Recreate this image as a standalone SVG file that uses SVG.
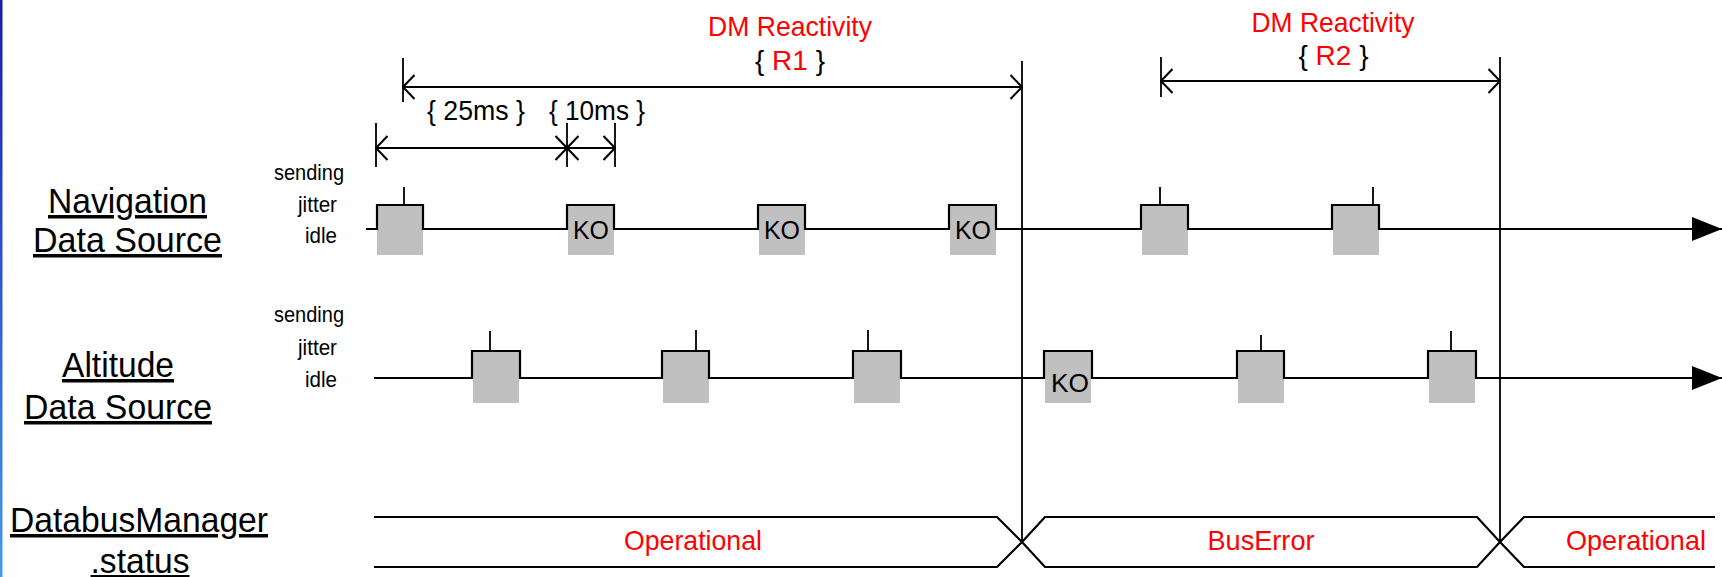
<svg xmlns="http://www.w3.org/2000/svg" width="1722" height="577" viewBox="0 0 1722 577">
<style>
text{font-family:"Liberation Sans",Arial,sans-serif}
.lbl{font-size:35px;text-anchor:middle;text-decoration:underline}
.st{font-size:22px;text-anchor:end}
.red{fill:#ff0000}
.t27{font-size:28px;text-anchor:middle}
.ko{font-size:26px;text-anchor:middle}
.sig{fill:none;stroke:#000;stroke-width:2.2}
.thin{fill:none;stroke:#000;stroke-width:1.8}
.dim{fill:none;stroke:#000;stroke-width:2;marker-start:url(#oa);marker-end:url(#oa)}
.pulse{fill:#c0c0c0}
</style>
<defs>
<linearGradient id="bg" x1="0" y1="0" x2="0" y2="1">
<stop offset="0" stop-color="#1a1aa8"/>
<stop offset="1" stop-color="#4a9ae4"/>
</linearGradient>
<marker id="oa" viewBox="0 0 13 26" refX="12" refY="13" markerUnits="userSpaceOnUse" markerWidth="13" markerHeight="26" orient="auto-start-reverse">
<path d="M0.5,1 L12,13 L0.5,25" fill="none" stroke="#000" stroke-width="2"/>
</marker>
<marker id="fa" viewBox="0 0 30 24" refX="30" refY="12" markerUnits="userSpaceOnUse" markerWidth="30" markerHeight="24" orient="auto">
<path d="M0,0 L30,12 L0,24 Z" fill="#000"/>
</marker>
</defs>
<rect width="1722" height="577" fill="#fff"/>
<rect x="0" y="0" width="2.5" height="577" fill="url(#bg)"/>

<g id="label-nav">
<text class="lbl" x="127.5" y="213" textLength="159" lengthAdjust="spacingAndGlyphs">Navigation</text>
<text class="lbl" x="127.5" y="252" textLength="189" lengthAdjust="spacingAndGlyphs">Data Source</text>
<text class="st" x="344" y="180" textLength="70" lengthAdjust="spacingAndGlyphs">sending</text>
<text class="st" x="337" y="212" textLength="39" lengthAdjust="spacingAndGlyphs">jitter</text>
<text class="st" x="337" y="243" textLength="32" lengthAdjust="spacingAndGlyphs">idle</text>
</g>
<g id="label-alt">
<text class="lbl" x="118" y="377" textLength="112" lengthAdjust="spacingAndGlyphs">Altitude</text>
<text class="lbl" x="118" y="419" textLength="188" lengthAdjust="spacingAndGlyphs">Data Source</text>
<text class="st" x="344" y="322" textLength="70" lengthAdjust="spacingAndGlyphs">sending</text>
<text class="st" x="337" y="355" textLength="39" lengthAdjust="spacingAndGlyphs">jitter</text>
<text class="st" x="337" y="387" textLength="32" lengthAdjust="spacingAndGlyphs">idle</text>
</g>
<g id="label-dm">
<text class="lbl" x="139" y="532" textLength="258" lengthAdjust="spacingAndGlyphs">DatabusManager</text>
<text class="lbl" x="140" y="573" textLength="99" lengthAdjust="spacingAndGlyphs">.status</text>
</g>

<g id="nav-signal">
<rect class="pulse" x="377" y="205" width="46" height="50"/>
<rect class="pulse" x="568" y="205" width="46" height="50"/>
<rect class="pulse" x="759" y="205" width="46" height="50"/>
<rect class="pulse" x="950" y="205" width="46" height="50"/>
<rect class="pulse" x="1142" y="205" width="46" height="50"/>
<rect class="pulse" x="1333" y="205" width="46" height="50"/>
<path class="sig" marker-end="url(#fa)" d="M366,229 H377 V205 H423 V229 H567 V205 H614 V229 H758 V205 H805 V229 H949 V205 H996 V229 H1141 V205 H1188 V229 H1332 V205 H1379 V229 H1722"/>
<path class="thin" d="M404,187 V205 M1160,187 V205 M1373,187 V205"/>
<text class="ko" x="591" y="239" textLength="36" lengthAdjust="spacingAndGlyphs">KO</text>
<text class="ko" x="782" y="239" textLength="36" lengthAdjust="spacingAndGlyphs">KO</text>
<text class="ko" x="973" y="239" textLength="36" lengthAdjust="spacingAndGlyphs">KO</text>
</g>

<g id="alt-signal">
<rect class="pulse" x="473" y="351" width="46" height="52"/>
<rect class="pulse" x="663" y="351" width="46" height="52"/>
<rect class="pulse" x="854" y="351" width="46" height="52"/>
<rect class="pulse" x="1045" y="351" width="46" height="52"/>
<rect class="pulse" x="1238" y="351" width="46" height="52"/>
<rect class="pulse" x="1429" y="351" width="46" height="52"/>
<path class="sig" marker-end="url(#fa)" d="M374,378 H472 V351 H520 V378 H662 V351 H709 V378 H853 V351 H901 V378 H1044 V351 H1092 V378 H1237 V351 H1284 V378 H1428 V351 H1476 V378 H1722"/>
<path class="thin" d="M490,331 V351 M696,330 V351 M868,330 V351 M1261,335 V351 M1451,331 V351"/>
<text class="ko" x="1070" y="392" textLength="38" lengthAdjust="spacingAndGlyphs">KO</text>
</g>

<g id="dm-status">
<path class="sig" d="M374,517 H997 L1022,542 L997,567 H374"/>
<path class="sig" d="M1022,542 L1045,517 H1477 L1500,542 L1477,567 H1045 Z"/>
<path class="sig" d="M1715,517 H1524 L1500,542 L1524,567 H1715"/>
<text class="t27 red" x="693" y="550" textLength="138" lengthAdjust="spacingAndGlyphs">Operational</text>
<text class="t27 red" x="1261" y="550" textLength="107" lengthAdjust="spacingAndGlyphs">BusError</text>
<text class="t27 red" x="1636" y="550" textLength="140" lengthAdjust="spacingAndGlyphs">Operational</text>
</g>

<g id="annotations">
<text class="t27 red" x="790" y="36" textLength="164" lengthAdjust="spacingAndGlyphs">DM Reactivity</text>
<text class="t27" x="790" y="70">{ <tspan class="red">R1</tspan> }</text>
<text class="t27 red" x="1333" y="32" textLength="163" lengthAdjust="spacingAndGlyphs">DM Reactivity</text>
<text class="t27" x="1333.5" y="65">{ <tspan class="red">R2</tspan> }</text>
<text class="t27" x="476" y="120" textLength="98" lengthAdjust="spacingAndGlyphs">{ 25ms }</text>
<text class="t27" x="597" y="120" textLength="96" lengthAdjust="spacingAndGlyphs">{ 10ms }</text>
</g>

<g id="connectors">
<path class="thin" d="M1022,61 V542 M1500,57 V542"/>
<path class="thin" d="M403,58 V102 M1161,57 V97 M376,123 V167 M567,123 V167 M615,123 V167"/>
<path class="dim" d="M403,87 H1022"/>
<path class="dim" d="M1161,81 H1500"/>
<path class="dim" d="M376,148 H567"/>
<path class="dim" d="M567,148 H615"/>
</g>
</svg>
